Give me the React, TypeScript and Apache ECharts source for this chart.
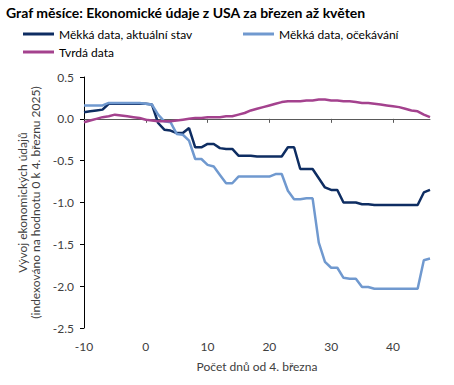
import React, { useEffect, useRef } from "react";
import * as echarts from "echarts";

const days = [-10, -9, -8, -7, -6, -5, -4, -3, -2, -1, 0, 1, 2, 3, 4, 5, 6, 7, 8, 9, 10, 11, 12, 13, 14, 15, 16, 17, 18, 19, 20, 21, 22, 23, 24, 25, 26, 27, 28, 29, 30, 31, 32, 33, 34, 35, 36, 37, 38, 39, 40, 41, 42, 43, 44, 45, 46];

const softActual = [0.08, 0.09, 0.10, 0.11, 0.18, 0.18, 0.18, 0.18, 0.18, 0.18, 0.18, 0.17, -0.05, -0.13, -0.14, -0.17, -0.17, -0.11, -0.34, -0.34, -0.30, -0.30, -0.35, -0.36, -0.36, -0.44, -0.44, -0.44, -0.45, -0.45, -0.45, -0.45, -0.45, -0.34, -0.34, -0.60, -0.60, -0.60, -0.71, -0.82, -0.85, -0.85, -1.00, -1.00, -1.00, -1.02, -1.02, -1.03, -1.03, -1.03, -1.03, -1.03, -1.03, -1.03, -1.03, -0.88, -0.85];

const softExpected = [0.16, 0.16, 0.16, 0.16, 0.19, 0.19, 0.19, 0.19, 0.19, 0.19, 0.18, 0.17, 0.05, -0.03, -0.04, -0.18, -0.19, -0.26, -0.48, -0.48, -0.55, -0.57, -0.67, -0.77, -0.77, -0.69, -0.69, -0.69, -0.69, -0.69, -0.69, -0.66, -0.66, -0.86, -0.96, -0.96, -0.95, -0.95, -1.48, -1.71, -1.78, -1.78, -1.90, -1.91, -1.91, -2.01, -2.01, -2.03, -2.03, -2.03, -2.03, -2.03, -2.03, -2.03, -2.03, -1.69, -1.67];

const hardData = [-0.04, -0.02, 0.00, 0.02, 0.03, 0.05, 0.04, 0.03, 0.02, 0.01, -0.01, -0.02, -0.03, -0.03, -0.03, -0.02, -0.01, 0.00, 0.01, 0.01, 0.02, 0.02, 0.02, 0.03, 0.03, 0.05, 0.07, 0.10, 0.12, 0.14, 0.16, 0.18, 0.20, 0.21, 0.21, 0.21, 0.22, 0.22, 0.23, 0.23, 0.22, 0.22, 0.21, 0.21, 0.20, 0.19, 0.19, 0.18, 0.17, 0.16, 0.15, 0.14, 0.12, 0.10, 0.09, 0.05, 0.02];

const xTicks = [-10, 0, 10, 20, 30, 40];

const seriesNames = ["Měkká data, aktuální stav", "Měkká data, očekávání", "Tvrdá data"];
const colors = ["#0e2d62", "#7099cf", "#a4428e"];

const FONT = "Lato";
const TEXT = "#404040";

export default function App() {
  const ref = useRef<HTMLDivElement>(null);
  useEffect(() => {
    if (!ref.current) return;
    const chart = echarts.init(ref.current, null, { renderer: "svg" });
    const values = [softActual, softExpected, hardData];
    const legendText = { fontFamily: FONT, fontSize: 12, color: "#000" };
    chart.setOption({
      animation: false,
      textStyle: { fontFamily: FONT },
      title: {
        text: "Graf měsíce: Ekonomické údaje z USA za březen až květen",
        left: 6,
        top: 5,
        padding: 0,
        textStyle: { fontFamily: FONT, fontSize: 14, fontWeight: "bold", color: "#000" },
      },
      legend: [
        { left: 23, top: 28, padding: 0, itemWidth: 31, itemHeight: 3, icon: "rect", data: [seriesNames[0]], textStyle: legendText },
        { left: 243, top: 28, padding: 0, itemWidth: 31, itemHeight: 3, icon: "rect", data: [seriesNames[1]], textStyle: legendText },
        { left: 23, top: 46, padding: 0, itemWidth: 31, itemHeight: 3, icon: "rect", data: [seriesNames[2]], textStyle: legendText },
      ],
      grid: { left: 84, right: 24, top: 77, bottom: 57, containLabel: false },
      xAxis: [
        {
          type: "value",
          min: -10,
          max: 46,
          interval: 10,
          axisLine: { onZero: true, lineStyle: { color: "#595959", width: 1 } },
          axisTick: { show: true, customValues: [0, 10, 20, 30, 40], length: 4, lineStyle: { color: "#595959" } },
          axisLabel: { show: false },
          splitLine: { show: false },
        },
        {
          type: "value",
          min: -10,
          max: 46,
          interval: 10,
          position: "bottom",
          axisLine: { show: false, onZero: false },
          axisTick: { show: false },
          splitLine: { show: false },
          axisLabel: { customValues: xTicks, margin: 12, fontSize: 12, color: TEXT, fontFamily: FONT },
          name: "Počet dnů od 4. března",
          nameLocation: "middle",
          nameGap: 32,
          nameTextStyle: { fontSize: 12, color: TEXT, fontFamily: FONT },
        },
      ],
      yAxis: {
        type: "value",
        min: -2.5,
        max: 0.5,
        interval: 0.5,
        axisLine: { show: true, onZero: false, lineStyle: { color: "#000", width: 1 } },
        axisTick: { show: true, length: 4, lineStyle: { color: "#000" } },
        splitLine: { show: false },
        axisLabel: { formatter: (v: number) => v.toFixed(1), margin: 10, fontSize: 12, color: TEXT, fontFamily: FONT },
        name: "Vývoj ekonomických údajů\n(indexováno na hodnotu 0 k 4. březnu 2025)",
        nameLocation: "middle",
        nameGap: 40,
        nameTextStyle: { fontSize: 12, color: TEXT, fontFamily: FONT, lineHeight: 13 },
      },
      series: values.map((vals, i) => ({
        name: seriesNames[i],
        type: "line",
        xAxisIndex: 0,
        data: days.map((d, j) => [d, vals[j]]),
        showSymbol: false,
        symbol: "none",
        color: colors[i],
        lineStyle: { color: colors[i], width: 2.5 },
        z: i === 2 ? 3 : 2,
      })),
    });
    return () => chart.dispose();
  }, []);
  return <div ref={ref} style={{ width: 454, height: 385, position: "absolute", left: 0, top: 0 }} />;
}
